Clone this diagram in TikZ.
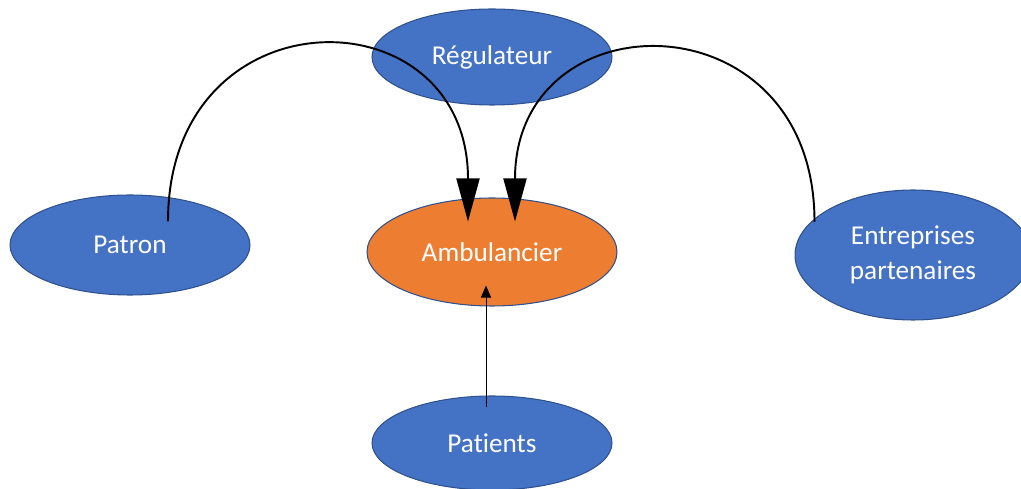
\documentclass[tikz,border=0pt]{standalone}
\usepackage{fontspec}
\setmainfont{Carlito}[Ligatures=NoCommon]
\usetikzlibrary{shapes.geometric,arrows.meta}
\definecolor{boxblue}{HTML}{4472C4}
\definecolor{edgeblue}{HTML}{2F528F}
\definecolor{boxorange}{HTML}{ED7D31}
\tikzset{
  acteur/.style={ellipse,draw=edgeblue,fill=boxblue,line width=0.6pt,inner sep=0pt,
    text=white,font=\fontsize{15.5}{20}\selectfont,align=center},
  lien/.style={line width=1.1pt,-{Triangle[length=0.86cm,width=0.46cm]}},
  fin/.style={line width=0.5pt,-{Triangle[length=0.24cm,width=0.2cm]}}
}
\begin{document}
\begin{tikzpicture}[x=0.02cm,y=-0.02cm]
    \useasboundingbox (0,0) rectangle (1021,489);
    \node[acteur,minimum width=4.8cm,minimum height=1.92cm] (regul) at (492,57) {Régulateur};
    \node[acteur,minimum width=4.8cm,minimum height=2cm] (patron) at (130,245) {Patron};
    \node[acteur,fill=boxorange,minimum width=5cm,minimum height=2.16cm] (amb) at (492,252) {Ambulancier};
    \node[acteur,minimum width=4.72cm,minimum height=2.6cm] (ent) at (913,255) {Entreprises\\partenaires};
    \node[acteur,minimum width=4.8cm,minimum height=1.88cm] (patients) at (492,443) {Patients};
    % fleches
    \draw[lien] ([shift={(38,27)}]patron.north) .. controls (168,-10) and (468,-10) .. ([shift={(-24,24)}]amb.north);
    \draw[lien] ([shift={(20,-33)}]ent.west) .. controls (815,-5) and (515,-5) .. ([shift={(23,24)}]amb.north);
    \draw[fin] ([shift={(-6,12)}]patients.north) -- ([shift={(-6,-21)}]amb.south);
\end{tikzpicture}
\end{document}
